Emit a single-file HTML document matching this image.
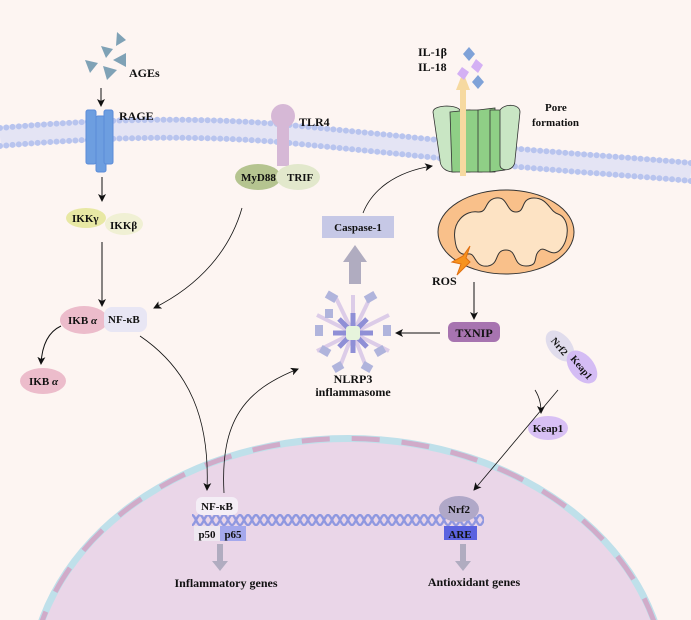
<!DOCTYPE html><html><head><style>html,body{margin:0;background:#fdf5f2;overflow:hidden;width:691px;height:620px}svg{display:block}text{font-family:"Liberation Serif",serif;font-weight:bold;fill:#111}</style></head><body>
<svg width="691" height="620" viewBox="0 0 691 620" xmlns="http://www.w3.org/2000/svg">
<defs><marker id="a" markerWidth="8" markerHeight="8" refX="7" refY="4" orient="auto" markerUnits="userSpaceOnUse"><path d="M0,0 L8,4 L0,8 L2,4z" fill="#111"/></marker>
<pattern id="dna" x="192" y="514" width="8" height="12" patternUnits="userSpaceOnUse"><path d="M0,1 C3,1 5,11 8,11 M0,11 C3,11 5,1 8,1" fill="none" stroke="#9098e0" stroke-width="2.4"/></pattern></defs>
<rect width="691" height="620" fill="#fdf5f2"/>
<!-- nucleus -->
<ellipse cx="348" cy="690" rx="322" ry="255" fill="#bfe0ea"/>
<ellipse cx="348" cy="690" rx="315" ry="248" fill="#ead6e8"/>
<ellipse cx="348" cy="690" rx="318" ry="251.5" fill="none" stroke="#d49ec0" stroke-width="5" stroke-dasharray="28 22" opacity="0.8"/>
<!-- membrane -->
<g fill="none">
<path d="M0,137 C100,128 200,125 300,135 C400,145 450,150 520,158 C600,165 650,168 691,172" stroke="#e4e4f4" stroke-width="22"/>
<path d="M0,128 C100,119 200,116 300,126 C400,136 450,141 520,149 C600,156 650,159 691,163" stroke="#b8c4ee" stroke-width="6" stroke-linecap="round" stroke-dasharray="0 6.3"/>
<path d="M0,146 C100,137 200,134 300,144 C400,154 450,159 520,167 C600,174 650,177 691,181" stroke="#b8c4ee" stroke-width="6" stroke-linecap="round" stroke-dasharray="0 6.3"/>
</g>
<!-- AGEs -->
<g fill="#7fa2b6"><path d="M117,32 L126,40 L116,46z"/><path d="M101,46 L113,49 L106,58z"/><path d="M113,60 L126,53 L126,67z"/><path d="M85,60 L98,63 L90,73z"/><path d="M103,66 L117,70 L107,80z"/></g>
<text x="129" y="77" font-size="12">AGEs</text>
<line x1="101" y1="88" x2="101" y2="106" stroke="#111" marker-end="url(#a)"/>
<!-- RAGE -->
<g fill="#6d9ee0" stroke="#5b8cd8"><rect x="86" y="110" width="10" height="54" rx="2"/><rect x="96" y="116" width="10" height="56" rx="2"/><rect x="104" y="110" width="9" height="54" rx="2"/></g>
<text x="119" y="120" font-size="12">RAGE</text>
<line x1="102" y1="177" x2="102" y2="201" stroke="#111" marker-end="url(#a)"/>
<ellipse cx="86" cy="218" rx="20" ry="10" fill="#e8e8a4"/>
<ellipse cx="124" cy="224" rx="19" ry="11" fill="#f0f0d4"/>
<text x="72" y="222" font-size="11">IKKγ</text><text x="110" y="229" font-size="11">IKKβ</text>
<line x1="102" y1="242" x2="102" y2="306" stroke="#111" marker-end="url(#a)"/>
<ellipse cx="84" cy="320" rx="24" ry="14" fill="#ecbccb"/>
<rect x="104" y="307" width="43" height="25" rx="8" fill="#e8e6f4"/>
<text x="68" y="324" font-size="11">IKB <tspan font-style="italic">α</tspan></text>
<text x="108" y="323" font-size="11">NF-κB</text>
<path d="M61,326 C48,332 42,345 41,364" fill="none" stroke="#111" marker-end="url(#a)"/>
<ellipse cx="43" cy="381" rx="23" ry="13" fill="#ecbccb"/>
<text x="29" y="385" font-size="11">IKB <tspan font-style="italic">α</tspan></text>
<!-- TLR4 -->
<rect x="277" y="122" width="12" height="44" fill="#d6b8d6"/>
<circle cx="283" cy="116" r="12" fill="#d6b8d6"/>
<text x="299" y="126" font-size="12">TLR4</text>
<ellipse cx="258" cy="177" rx="23" ry="13" fill="#b5c490"/>
<ellipse cx="298" cy="177" rx="22" ry="13" fill="#e2e8cc"/>
<text x="241" y="181" font-size="11">MyD88</text><text x="287" y="181" font-size="11">TRIF</text>
<path d="M242,208 C230,250 200,285 154,308" fill="none" stroke="#111" stroke-width="0.8" marker-end="url(#a)"/>
<!-- caspase -->
<rect x="322" y="216" width="72" height="22" fill="#c6c8e6"/>
<text x="358" y="231" font-size="11" text-anchor="middle">Caspase-1</text>
<path d="M363,213 C372,190 395,172 432,166" fill="none" stroke="#111" stroke-width="0.8" marker-end="url(#a)"/>
<rect x="349" y="262" width="12" height="22" fill="#b0acc0"/><path d="M343,262 L355,245 L367,262z" fill="#b0acc0"/>
<!-- NLRP3 -->
<g transform="translate(353,333)">
<g stroke="#dccce8" stroke-width="4"><line x1="0" y1="0" x2="0" y2="-38"/><line x1="0" y1="0" x2="36" y2="-18"/><line x1="0" y1="0" x2="36" y2="18"/><line x1="0" y1="0" x2="-36" y2="-18"/><line x1="0" y1="0" x2="-36" y2="18"/><line x1="0" y1="0" x2="14" y2="36"/><line x1="0" y1="0" x2="-14" y2="36"/><line x1="0" y1="0" x2="17" y2="-35"/><line x1="0" y1="0" x2="-17" y2="-35"/></g>
<g fill="#b0b4dc"><rect x="-27" y="-40" width="11" height="8" transform="rotate(30 -21 -36)"/><rect x="12" y="-40" width="11" height="8" transform="rotate(-30 18 -36)"/><rect x="30" y="-8" width="8" height="11"/><rect x="-38" y="-8" width="8" height="11"/><rect x="-33" y="14" width="10" height="8" transform="rotate(30 -28 18)"/><rect x="22" y="14" width="10" height="8" transform="rotate(-30 27 18)"/><rect x="-20" y="30" width="10" height="8" transform="rotate(-30 -15 34)"/><rect x="9" y="30" width="10" height="8" transform="rotate(30 14 34)"/><rect x="-28" y="-24" width="8" height="9"/></g>
<g stroke="#8f8fd6" stroke-width="5"><line x1="-20" y1="0" x2="20" y2="0"/><line x1="0" y1="-20" x2="0" y2="20"/><line x1="-14" y1="-14" x2="14" y2="14"/><line x1="-14" y1="14" x2="14" y2="-14"/></g>
<rect x="-7" y="-7" width="14" height="14" rx="3" fill="#e6f4dc"/>
</g>
<text x="353" y="383" font-size="12" text-anchor="middle">NLRP3</text>
<text x="353" y="396" font-size="12" text-anchor="middle">inflammasome</text>
<!-- TXNIP -->
<rect x="448" y="322" width="52" height="20" rx="6" fill="#a774b0"/>
<text x="474" y="337" font-size="12" text-anchor="middle">TXNIP</text>
<line x1="440" y1="333" x2="396" y2="333" stroke="#111" marker-end="url(#a)"/>
<line x1="474" y1="282" x2="474" y2="319" stroke="#111" marker-end="url(#a)"/>
<!-- mito -->
<ellipse cx="506" cy="232" rx="68" ry="42" fill="#f9c08a" stroke="#333"/>
<path d="M455,240 C452,222 465,210 478,212 C488,213 484,200 496,198 C508,196 506,212 516,212 C526,212 520,198 534,198 C548,198 550,212 558,214 C570,218 570,240 560,250 C552,258 545,246 540,250 C532,256 540,266 526,266 C512,266 518,250 506,250 C494,250 500,264 488,266 C474,268 476,252 468,254 C460,256 456,250 455,240z" fill="#fde3c4" stroke="#333"/>
<path d="M470,246 L463,256 L452,262 L461,264 L457,275 L470,262 L466,258z" fill="#f7931e" stroke="#e07010"/>
<text x="432" y="285" font-size="12">ROS</text>
<!-- pore -->
<g stroke="#333" stroke-width="0.8"><path d="M433,112 C433,105 455,104 460,110 L460,170 C452,175 440,170 440,160 Z" fill="#c9e6c4"/>
<path d="M450,112 L470,110 L470,172 L452,172z" fill="#8fcf86"/><path d="M462,110 L482,110 L482,172 L462,172z" fill="#8fcf86"/><path d="M478,110 L495,108 L495,172 L478,172z" fill="#8fcf86"/><path d="M490,110 L505,110 L505,170 L490,172z" fill="#8fcf86"/>
<path d="M500,110 C505,103 520,104 520,112 L515,160 C515,172 500,172 500,165z" fill="#c9e6c4"/></g>
<rect x="460" y="88" width="6" height="88" fill="#f6d9a0"/><path d="M456,90 L463,72 L470,90z" fill="#f6d9a0"/>
<text x="545" y="111" font-size="11">Pore</text><text x="532" y="126" font-size="11">formation</text>
<text x="418" y="56" font-size="12">IL-1β</text><text x="418" y="71" font-size="12">IL-18</text>
<path d="M469,47 L475,54 L469,61 L463,54z" fill="#7fa2d8"/>
<path d="M476,59 L483,65 L478,73 L471,67z" fill="#d4b0f4"/>
<path d="M462,67 L469,72 L464,80 L457,74z" fill="#d4b0f4"/>
<path d="M478,75 L484,82 L478,89 L472,82z" fill="#7fa2d8"/>
<!-- Nrf2 Keap1 -->
<ellipse cx="560" cy="346" rx="18" ry="11" transform="rotate(50 560 346)" fill="#e0dcec"/>
<ellipse cx="582" cy="367" rx="19" ry="12" transform="rotate(50 582 367)" fill="#d4bcf4"/>
<text x="560" y="350" font-size="10" text-anchor="middle" transform="rotate(50 560 346)">Nrf2</text>
<text x="582" y="371" font-size="10" text-anchor="middle" transform="rotate(50 582 367)">Keap1</text>
<path d="M535,390 C540,398 541,405 541,413" fill="none" stroke="#111" stroke-width="0.8" marker-end="url(#a)"/>
<ellipse cx="548" cy="428" rx="20" ry="12" fill="#d8c0f4"/>
<text x="548" y="432" font-size="11" text-anchor="middle">Keap1</text>
<path d="M558,390 L474,490" fill="none" stroke="#111" stroke-width="0.8" marker-end="url(#a)"/>
<!-- nuclear arrows -->
<path d="M140,336 C190,370 210,420 207,490" fill="none" stroke="#111" stroke-width="0.8" marker-end="url(#a)"/>
<path d="M224,493 C220,420 245,390 298,369" fill="none" stroke="#111" stroke-width="0.8" marker-end="url(#a)"/>
<!-- DNA -->
<rect x="192" y="514" width="292" height="12" fill="url(#dna)"/>
<rect x="196" y="497" width="42" height="18" rx="6" fill="#f4eef6"/>
<text x="217" y="510" font-size="11" text-anchor="middle">NF-κB</text>
<rect x="194" y="526" width="26" height="15" fill="#eee8f0"/><rect x="220" y="526" width="26" height="15" fill="#a4a8ec"/>
<text x="207" y="538" font-size="11" text-anchor="middle">p50</text><text x="233" y="538" font-size="11" text-anchor="middle">p65</text>
<ellipse cx="459" cy="509" rx="20" ry="13" fill="#b0a8c8"/>
<text x="459" y="513" font-size="11" text-anchor="middle">Nrf2</text>
<rect x="444" y="526" width="33" height="14" fill="#5b63e0"/>
<text x="460" y="538" font-size="11" text-anchor="middle">ARE</text>
<rect x="217" y="544" width="6" height="18" fill="#b0acc0"/><path d="M212,561 L220,571 L228,561z" fill="#b0acc0"/>
<rect x="460" y="544" width="6" height="18" fill="#b0acc0"/><path d="M455,561 L463,571 L471,561z" fill="#b0acc0"/>
<text x="226" y="587" font-size="12" text-anchor="middle">Inflammatory genes</text>
<text x="474" y="586" font-size="12" text-anchor="middle">Antioxidant genes</text>
</svg></body></html>
